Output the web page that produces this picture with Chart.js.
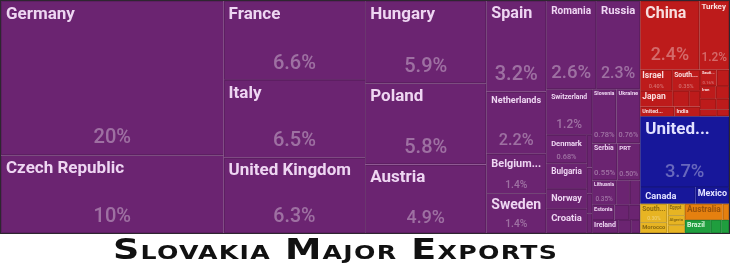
<!DOCTYPE html>
<html>
<head>
<meta charset="utf-8">
<script src="https://cdn.jsdelivr.net/npm/chart.js@4.4.1/dist/chart.umd.min.js"></script>
<style>
html, body { margin: 0; padding: 0; background: #fff; }
#wrap { width: 730px; height: 234px; position: relative; }
#title {
    position: absolute; left: 113px; top: 234px; height: 30px; line-height: 30px;
    font-family: "DejaVu Sans", sans-serif; font-weight: bold; font-size: 29px;
    font-variant: small-caps; color: #111; white-space: nowrap; letter-spacing: 1px;
    transform-origin: left center; transform: scaleX(1.26);
}
</style>
</head>
<body>
<div id="wrap"><canvas id="treeChart" width="730" height="234"></canvas></div>
<div id="title">Slovakia Major Exports</div>
<script>
// export shares in % per destination, grouped by continent
const europeNames = ['Germany', 'Czech Republic', 'France', 'Italy', 'United Kingdom', 'Hungary', 'Poland', 'Austria',
    'Spain', 'Netherlands', 'Belgium-Luxembourg', 'Sweden', 'Romania', 'Russia', 'Switzerland', 'Denmark', 'Bulgaria',
    'Norway', 'Croatia', 'North Macedonia', 'Malta', 'Iceland', 'Albania', 'Slovenia', 'Ukraine', 'Serbia', 'Portugal',
    'Lithuania', 'Finland', 'Greece', 'Estonia', 'Latvia', 'Belarus', 'Ireland', 'Bosnia and Herzegovina', 'Moldova'];
const europeValues = [20.3, 10.2, 6.6, 6.5, 6.3, 5.9, 5.8, 4.9,
    3.2, 2.2, 1.4, 1.4, 2.6, 2.3, 1.24, 0.68, 0.62,
    0.48, 0.58, 0.1, 0.08, 0.06, 0.06, 0.78, 0.76, 0.55, 0.5,
    0.35, 0.2, 0.15, 0.2, 0.13, 0.1, 0.2, 0.1, 0.07];

const asiaNames = ['China', 'Turkey', 'Israel', 'South Korea', 'Japan', 'Kazakhstan', 'Singapore', 'United Arab Emirates',
    'India', 'Saudi Arabia', 'Vietnam', 'Iran', 'Taiwan', 'Malaysia', 'Thailand', 'Georgia', 'Azerbaijan'];
const asiaValues = [2.4, 1.2, 0.4, 0.35, 0.3, 0.15, 0.1, 0.2,
    0.15, 0.16, 0.12, 0.12, 0.1, 0.1, 0.08, 0.07, 0.05];

const northAmericaNames = ['United States', 'Canada', 'Mexico'];
const northAmericaValues = [3.7, 0.55, 0.33];

const africaNames = ['South Africa', 'Morocco', 'Egypt', 'Algeria', 'Tunisia'];
const africaValues = [0.3, 0.17, 0.12, 0.1, 0.08];

const oceaniaNames = ['Australia', 'New Zealand'];
const oceaniaValues = [0.36, 0.06];

const southAmericaNames = ['Brazil', 'Argentina', 'Chile'];
const southAmericaValues = [0.2, 0.08, 0.06];

const continents = [
    { label: 'Europe', names: europeNames, values: europeValues, color: '#6b2471', text: '#eed6f2' },
    { label: 'Asia', names: asiaNames, values: asiaValues, color: '#bd1b1b', text: '#f8dede' },
    { label: 'North America', names: northAmericaNames, values: northAmericaValues, color: '#17179a', text: '#e2e2ff' },
    { label: 'Africa', names: africaNames, values: africaValues, color: '#e7b423', text: '#8a6a10' },
    { label: 'Oceania', names: oceaniaNames, values: oceaniaValues, color: '#e5800f', text: '#9a520a' },
    { label: 'South America', names: southAmericaNames, values: southAmericaValues, color: '#1f9e3e', text: '#d8f5dc' }
];

// nesting of the tiles: 'h' = side by side, 'v' = stacked
const tileTree = ['h',
    ['h',
        ['v', 'Germany', 'Czech Republic'],
        ['v', 'France', 'Italy', 'United Kingdom'],
        ['v', 'Hungary', 'Poland', 'Austria'],
        ['v', 'Spain', 'Netherlands', 'Belgium-Luxembourg', 'Sweden'],
        ['v', ['h', 'Romania', 'Russia'],
            ['h',
                ['v', 'Switzerland',
                    ['h', ['v', 'Denmark', 'Bulgaria', 'Norway', 'Croatia'],
                          ['v', 'North Macedonia', 'Malta', 'Iceland', 'Albania']]],
                ['v', ['h', 'Slovenia', 'Ukraine'], ['h', 'Serbia', 'Portugal'],
                      ['h', 'Lithuania', 'Finland', 'Greece'], ['h', 'Estonia', 'Latvia', 'Belarus'],
                      ['h', 'Ireland', 'Bosnia and Herzegovina', 'Moldova']]]]],
    ['v',
        ['v', ['h', 'China', 'Turkey'],
            ['h',
                ['v', ['h', 'Israel', 'South Korea'], ['h', 'Japan', 'Kazakhstan', 'Singapore'], ['h', 'United Arab Emirates', 'India']],
                ['v', ['h', 'Saudi Arabia', 'Vietnam'], ['h', 'Iran', 'Taiwan'], ['h', 'Malaysia', 'Thailand'], ['h', 'Georgia', 'Azerbaijan']]]],
        ['v', 'United States', ['h', 'Canada', 'Mexico']],
        ['h',
            ['h', ['v', 'South Africa', 'Morocco'], ['v', 'Egypt', 'Algeria', 'Tunisia']],
            ['v', ['h', 'Australia', 'New Zealand'], ['h', 'Brazil', 'Argentina', 'Chile']]]]
];

const shortNames = { 'Portugal': 'PRT' };

let valueOf = {};
let continentOf = {};
continents.forEach((c, ci) => {
    c.names.forEach((n, i) => { valueOf[n] = c.values[i]; continentOf[n] = ci; });
});

function nodeSum(node) {
    if (typeof node === 'string') return valueOf[node];
    return node.slice(1).reduce((s, k) => s + nodeSum(k), 0);
}

// slice and dice, in value units (0..100 on both axes)
function layoutNode(node, x0, y0, x1, y1, out) {
    if (typeof node === 'string') {
        out.push({ name: node, value: valueOf[node], x0, y0, x1, y1, x: (x0 + x1) / 2, y: (y0 + y1) / 2 });
        return;
    }
    const total = nodeSum(node);
    let pos = node[0] === 'h' ? x0 : y0;
    node.slice(1).forEach(k => {
        const share = nodeSum(k) / total;
        if (node[0] === 'h') {
            const w = (x1 - x0) * share;
            layoutNode(k, pos, y0, pos + w, y1, out);
            pos += w;
        } else {
            const h = (y1 - y0) * share;
            layoutNode(k, x0, pos, x1, pos + h, out);
            pos += h;
        }
    });
}

let tiles = [];
layoutNode(tileTree, 0, 0, 100, 100, tiles);

function pctText(v) {
    if (v >= 10) return Math.round(v) + '%';
    if (v >= 1) return v.toFixed(1) + '%';
    return v.toFixed(2) + '%';
}

const LABEL_FONT = '"Roboto", sans-serif';

function fitSize(ctx, text, weight, maxSize, width) {
    ctx.font = weight + ' 10px ' + LABEL_FONT;
    const w10 = ctx.measureText(text).width;
    return Math.min(maxSize, 10 * width / w10);
}

const treemapPlugin = {
    id: 'treemapTiles',
    beforeDatasetsDraw(chart) {
        const ctx = chart.ctx, xs = chart.scales.x, ys = chart.scales.y;
        ctx.save();
        chart.data.datasets.forEach((ds, di) => {
            const c = continents[di];
            ds.data.forEach(t => {
                const l = xs.getPixelForValue(t.x0), r = xs.getPixelForValue(t.x1);
                const tp = ys.getPixelForValue(t.y0), b = ys.getPixelForValue(t.y1);
                ctx.fillStyle = c.color;
                ctx.fillRect(l, tp, r - l, b - tp);
                ctx.strokeStyle = 'rgba(0,0,0,0.13)';
                ctx.lineWidth = 1;
                ctx.strokeRect(Math.round(l) + 0.5, Math.round(tp) + 0.5, Math.round(r - l) - 1, Math.round(b - tp) - 1);
            });
        });
        chart.data.datasets.forEach((ds, di) => {
            const c = continents[di];
            ds.data.forEach(t => {
                const l = xs.getPixelForValue(t.x0), r = xs.getPixelForValue(t.x1);
                const tp = ys.getPixelForValue(t.y0), b = ys.getPixelForValue(t.y1);
                const w = r - l, h = b - tp;
                const pad = w > 40 ? 5 : 2;
                let name = shortNames[t.name] || t.name;
                // label size from the first word, rest truncated
                const words = name.split(/[ -]/);
                let size = fitSize(ctx, words[0], 'bold', Math.min(17, h * 0.55, w * 0.27), w - 2 * pad);
                if (size < 4 || h < size + 4) return;
                ctx.font = 'bold ' + size + 'px ' + LABEL_FONT;
                if (ctx.measureText(name).width > w - 2 * pad) {
                    let k = words.length - 1;
                    while (k > 1 && ctx.measureText(words.slice(0, k).join(' ') + '...').width > w - 2 * pad) k--;
                    name = words.slice(0, k).join(' ') + '...';
                    if (ctx.measureText(name).width > w - 2 * pad) {
                        size = fitSize(ctx, name, 'bold', size, w - 2 * pad);
                        ctx.font = 'bold ' + size + 'px ' + LABEL_FONT;
                    }
                }
                ctx.fillStyle = c.text;
                ctx.textBaseline = 'top';
                ctx.textAlign = 'left';
                ctx.fillText(name, l + pad, tp + pad);
                // percentage near the bottom
                const pct = pctText(t.value);
                const ps = fitSize(ctx, pct, '500', Math.min(20, h * 0.26), w - 2 * pad);
                if (ps < 4 || h < size + ps + pad * 2 + 2) return;
                ctx.font = '500 ' + ps + 'px ' + LABEL_FONT;
                ctx.fillStyle = 'rgba(255,255,255,0.35)';
                ctx.textAlign = 'center';
                ctx.textBaseline = 'middle';
                ctx.fillText(pct, (l + r) / 2, b - ps / 2 - Math.min(7, h * 0.08));
            });
        });
        ctx.strokeStyle = '#2e2630';
        ctx.lineWidth = 1;
        ctx.strokeRect(chart.chartArea.left - 0.5, chart.chartArea.top - 0.5,
            chart.chartArea.right - chart.chartArea.left + 1, chart.chartArea.bottom - chart.chartArea.top + 1);
        ctx.restore();
    }
};

const datasets = continents.map((c, ci) => ({
    label: c.label,
    data: tiles.filter(t => continentOf[t.name] === ci),
    pointRadius: 0,
    backgroundColor: c.color
}));

new Chart(document.getElementById('treeChart'), {
    type: 'scatter',
    data: { datasets: datasets },
    options: {
        responsive: false,
        animation: false,
        layout: { padding: { left: 1, right: 1, top: 1, bottom: 1 } },
        plugins: { legend: { display: false }, tooltip: { enabled: false }, title: { display: false } },
        scales: {
            x: { type: 'linear', min: 0, max: 100, display: false },
            y: { type: 'linear', min: 0, max: 100, reverse: true, display: false }
        }
    },
    plugins: [treemapPlugin]
});
</script>
</body>
</html>
